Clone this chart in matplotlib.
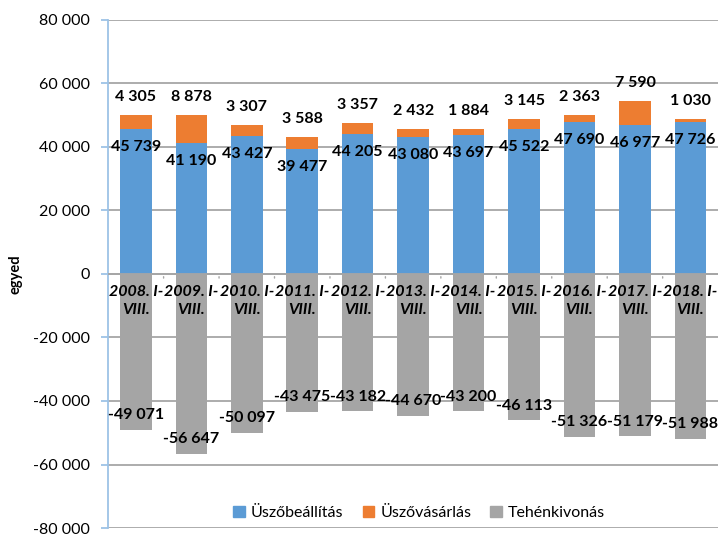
import numpy as np
import matplotlib
matplotlib.use('Agg')
import matplotlib.pyplot as plt
from matplotlib.patches import Patch

# data
years = ['2008', '2009', '2010', '2011', '2012', '2013', '2014', '2015', '2016', '2017', '2018']
cats = [y + '. I-\nVIII.' for y in years]
uszobeall = [45739, 41190, 43427, 39477, 44205, 43080, 43697, 45522, 47690, 46977, 47726]
uszovas = [4305, 8878, 3307, 3588, 3357, 2432, 1884, 3145, 2363, 7590, 1030]
tehenkiv = [-49071, -56647, -50097, -43475, -43182, -44670, -43200, -46113, -51326, -51179, -51988]
series_names = ['Üszőbeállítás', 'Üszővásárlás', 'Tehénkivonás']
yticks = np.arange(-80000, 80001, 20000)

clr_blue = '#5B9BD5'
clr_orng = '#ED7D31'
clr_gray = '#A5A5A5'

plt.rcParams['font.family'] = ['Lato', 'DejaVu Sans']

def fmt(v):
    return '{:,}'.format(int(v)).replace(',', ' ')

fig = plt.figure(figsize=(7.21, 5.35), dpi=100)
ax = fig.add_axes([0.150, 0.013, 0.846, 0.950])

x = np.arange(len(cats))
w = 0.57
ax.bar(x, uszobeall, w, color=clr_blue, zorder=2)
ax.bar(x, uszovas, w, bottom=uszobeall, color=clr_orng, zorder=2)
ax.bar(x, tehenkiv, w, color=clr_gray, zorder=2)

ax.set_xlim(-0.5, len(cats) - 0.5)
ax.set_ylim(-80000, 80000)
ax.set_yticks(yticks)
ax.set_yticklabels([fmt(v) for v in yticks], fontsize=11.5)
ax.yaxis.grid(True, color='#A6A6A6', linewidth=1.3, zorder=0)
ax.set_axisbelow(True)
ax.tick_params(axis='y', length=5, color='#9DC3E6', width=1.3, pad=8)

for s in ['top', 'right', 'bottom']:
    ax.spines[s].set_visible(False)
ax.spines['left'].set_color('#9DC3E6')
ax.spines['left'].set_linewidth(1.3)

# x axis at zero with ticks between categories
ax.axhline(0, color='#A6A6A6', linewidth=1.3, zorder=3)
ax.set_xticks([])
for b in np.arange(0.5, len(cats) - 0.5, 1.0):
    ax.annotate('', xy=(b, 0), xytext=(0, -5), textcoords='offset points',
                arrowprops=dict(arrowstyle='-', color='#A6A6A6', lw=1.0), zorder=3)

for i, c in enumerate(cats):
    ax.annotate(c, xy=(i, 0), xytext=(0, -8), textcoords='offset points',
                ha='center', va='top', fontsize=11.5, fontweight='bold', fontstyle='italic',
                linespacing=1.4, zorder=4)

# data labels
for i in range(len(cats)):
    ax.annotate(fmt(uszobeall[i]), xy=(i, uszobeall[i]), xytext=(0, -13), textcoords='offset points',
                ha='center', va='center', fontsize=11.5, fontweight='bold', zorder=4)
    ax.annotate(fmt(uszovas[i]), xy=(i, uszobeall[i] + uszovas[i]), xytext=(0, 13), textcoords='offset points',
                ha='center', va='center', fontsize=11.5, fontweight='bold', zorder=4)
    ax.annotate(fmt(tehenkiv[i]), xy=(i, tehenkiv[i]), xytext=(0, 10.5), textcoords='offset points',
                ha='center', va='center', fontsize=11.5, fontweight='bold', zorder=4)

fig.text(0.022, 0.488, 'egyed', rotation=90, ha='center', va='center', fontsize=10.5, fontweight='bold')

handles = [Patch(color=clr_blue), Patch(color=clr_orng), Patch(color=clr_gray)]
ax.legend(handles, series_names, loc='lower center', bbox_to_anchor=(0.51, -0.012), ncol=3,
          frameon=False, fontsize=11.5, handlelength=0.7, handleheight=0.7, handletextpad=0.4,
          columnspacing=1.2)

fig.savefig('out.png', dpi=100)
